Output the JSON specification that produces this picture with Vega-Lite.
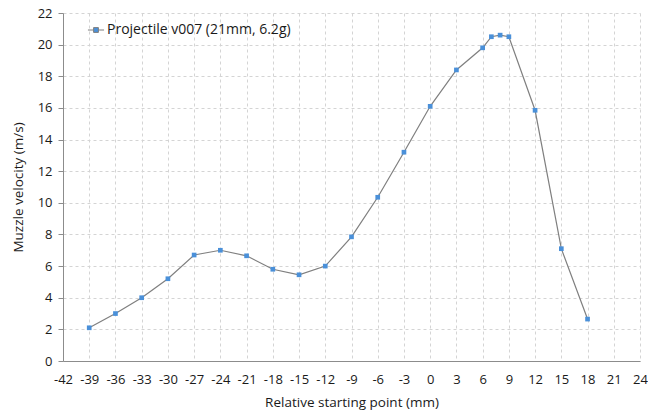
{
  "$schema": "https://vega.github.io/schema/vega-lite/v6.json",
  "autosize": "none",
  "width": 577,
  "height": 348,
  "padding": {"left": 63, "top": 13, "right": 8, "bottom": 51},
  "background": "white",
  "config": {
    "font": "Open Sans",
    "view": {"stroke": null},
    "axis": {
      "labelFont": "Open Sans",
      "titleFont": "Open Sans",
      "labelFontSize": 13,
      "titleFontSize": 13.5,
      "titleFontWeight": "normal",
      "labelColor": "#1a1a1a",
      "titleColor": "#1a1a1a",
      "grid": true,
      "gridColor": "#d4d4d4",
      "gridDash": [3, 3],
      "gridWidth": 1,
      "domainColor": "#8c8c8c",
      "tickColor": "#8c8c8c"
    }
  },
  "data": {
    "values": [
      {"x": -39, "v": 2.1, "series": "Projectile v007 (21mm, 6.2g)"},
      {"x": -36, "v": 3.0, "series": "Projectile v007 (21mm, 6.2g)"},
      {"x": -33, "v": 4.0, "series": "Projectile v007 (21mm, 6.2g)"},
      {"x": -30, "v": 5.2, "series": "Projectile v007 (21mm, 6.2g)"},
      {"x": -27, "v": 6.7, "series": "Projectile v007 (21mm, 6.2g)"},
      {"x": -24, "v": 7.0, "series": "Projectile v007 (21mm, 6.2g)"},
      {"x": -21, "v": 6.65, "series": "Projectile v007 (21mm, 6.2g)"},
      {"x": -18, "v": 5.8, "series": "Projectile v007 (21mm, 6.2g)"},
      {"x": -15, "v": 5.45, "series": "Projectile v007 (21mm, 6.2g)"},
      {"x": -12, "v": 6.0, "series": "Projectile v007 (21mm, 6.2g)"},
      {"x": -9, "v": 7.85, "series": "Projectile v007 (21mm, 6.2g)"},
      {"x": -6, "v": 10.35, "series": "Projectile v007 (21mm, 6.2g)"},
      {"x": -3, "v": 13.2, "series": "Projectile v007 (21mm, 6.2g)"},
      {"x": 0, "v": 16.1, "series": "Projectile v007 (21mm, 6.2g)"},
      {"x": 3, "v": 18.4, "series": "Projectile v007 (21mm, 6.2g)"},
      {"x": 6, "v": 19.8, "series": "Projectile v007 (21mm, 6.2g)"},
      {"x": 7, "v": 20.5, "series": "Projectile v007 (21mm, 6.2g)"},
      {"x": 8, "v": 20.6, "series": "Projectile v007 (21mm, 6.2g)"},
      {"x": 9, "v": 20.5, "series": "Projectile v007 (21mm, 6.2g)"},
      {"x": 12, "v": 15.85, "series": "Projectile v007 (21mm, 6.2g)"},
      {"x": 15, "v": 7.1, "series": "Projectile v007 (21mm, 6.2g)"},
      {"x": 18, "v": 2.65, "series": "Projectile v007 (21mm, 6.2g)"}
    ]
  },
  "encoding": {
    "x": {
      "field": "x",
      "type": "quantitative",
      "scale": {"domain": [-42, 24], "nice": false, "zero": false},
      "axis": {
        "title": "Relative starting point (mm)",
        "values": [-42, -39, -36, -33, -30, -27, -24, -21, -18, -15, -12, -9, -6, -3, 0, 3, 6, 9, 12, 15, 18, 21, 24],
        "labelExpr": "datum.value < 0 ? '-' + abs(datum.value) : '' + datum.value",
        "ticks": false,
        "labelPadding": 12,
        "titlePadding": 9,
        "labelFlush": false,
        "labelOverlap": false
      }
    },
    "y": {
      "field": "v",
      "type": "quantitative",
      "scale": {"domain": [0, 22], "nice": false},
      "axis": {
        "title": "Muzzle velocity (m/s)",
        "values": [0, 2, 4, 6, 8, 10, 12, 14, 16, 18, 20, 22],
        "tickSize": 5,
        "labelPadding": 6,
        "titlePadding": 12
      }
    }
  },
  "layer": [
    {
      "mark": {"type": "line", "color": "#7f7f7f", "strokeWidth": 1.2}
    },
    {
      "mark": {"type": "point", "shape": "square", "filled": true, "size": 22, "opacity": 1},
      "encoding": {
        "color": {
          "field": "series",
          "type": "nominal",
          "scale": {"range": ["#4a90d9"]},
          "legend": {
            "title": null,
            "orient": "none",
            "legendX": 24,
            "legendY": 8,
            "labelFont": "Open Sans",
            "labelFontSize": 14,
            "labelColor": "#1a1a1a",
            "labelLimit": 400,
            "symbolType": "M-1,0H-0.3M0.3,0H1M-0.3,-0.3H0.3V0.3H-0.3Z",
            "symbolSize": 260,
            "symbolStrokeColor": "#7f7f7f",
            "symbolStrokeWidth": 1,
            "symbolFillColor": "#4a90d9",
            "labelOffset": 2,
            "encode": {
              "symbols": {"update": {"stroke": {"value": "#7f7f7f"}, "strokeWidth": {"value": 1}, "strokeOpacity": {"value": 1}, "fill": {"value": "#4a90d9"}, "opacity": {"value": 1}}}
            }
          }
        }
      }
    }
  ]
}
